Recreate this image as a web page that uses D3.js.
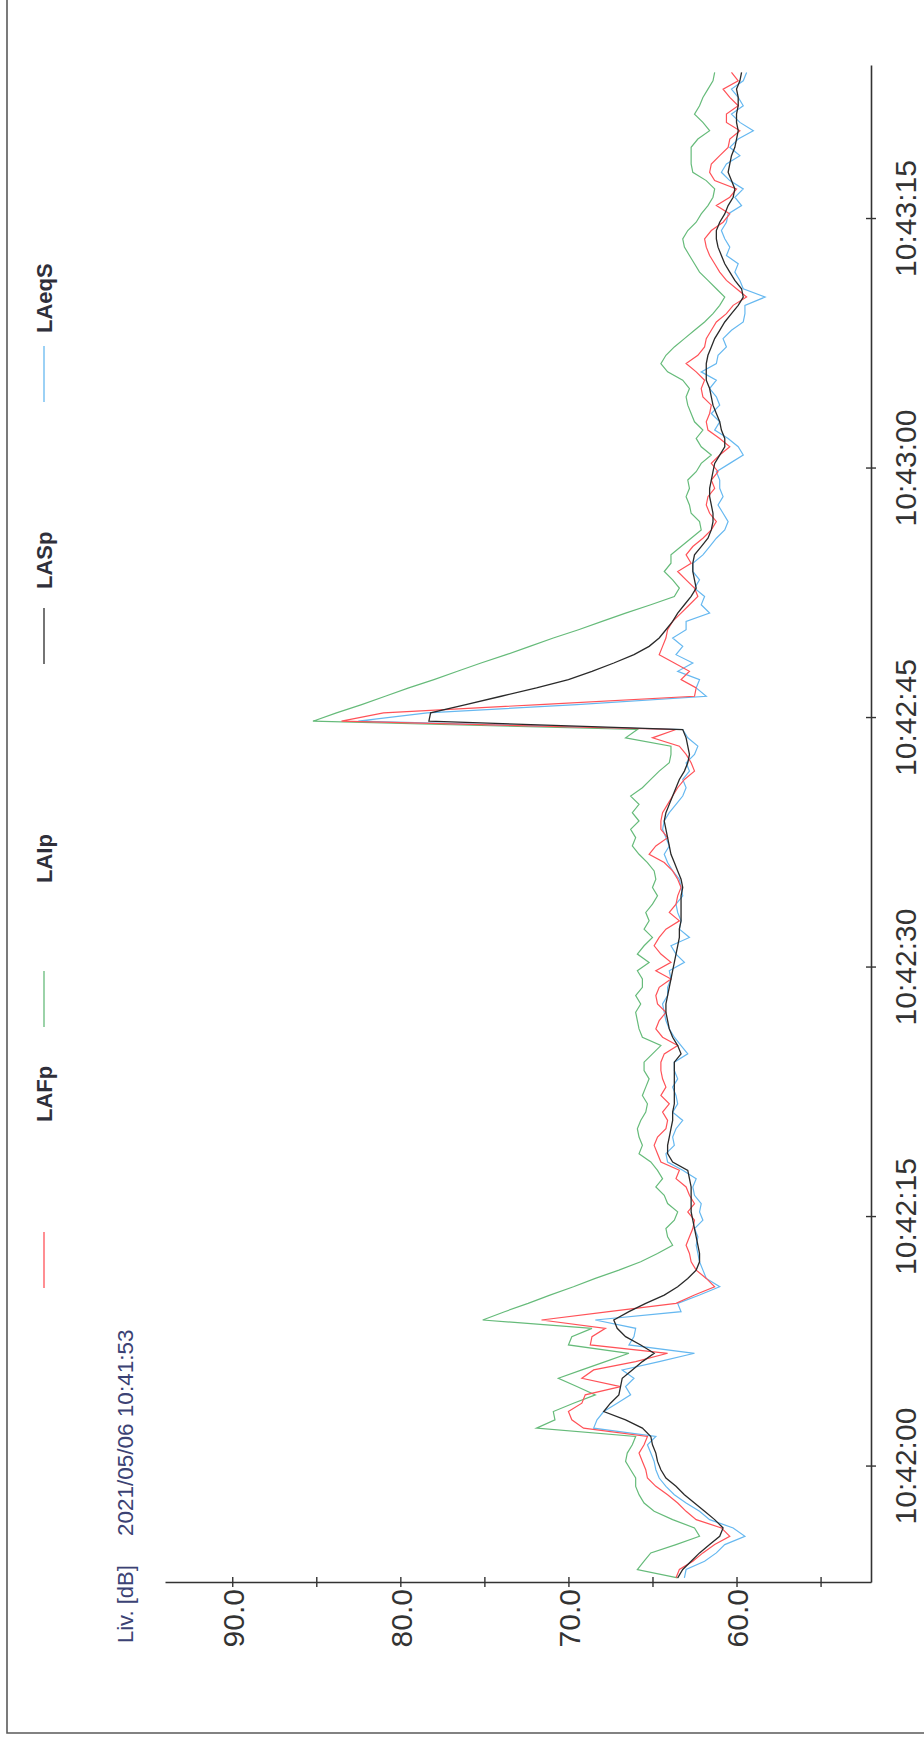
<!DOCTYPE html>
<html>
<head>
<meta charset="utf-8">
<script src="https://cdn.jsdelivr.net/npm/d3@7"></script>
<style>
  html, body { margin: 0; padding: 0; background: #fff; }
  svg { display: block; }
</style>
</head>
<body>
<svg id="chart" width="924" height="1742"></svg>
<script>
// ---- Data: sound level log, 0.5 s samples starting 2021/05/06 10:41:53.25 ----
const recordDate = "2021-05-06";
const firstSample = "10:41:53.250";
const sampleStepMs = 500;
const axisStart = "10:41:53.000";
const axisEnd = "10:43:24.200";

const seriesNames = ["LAFp", "LAIp", "LASp", "LAeqS"];

const LAFp = [
  63.6, 63.4, 62.6, 62.0, 61.3, 60.4, 60.9, 62.4, 63.0, 63.5,
  64.1, 64.8, 65.3, 65.4, 65.6, 65.8, 65.5, 65.3, 69.1, 69.8,
  70.0, 69.2, 69.0, 66.9, 69.2, 68.5, 66.0, 64.1, 68.7, 68.6,
  67.8, 71.6, 67.6, 63.6, 62.5, 61.3, 61.8, 62.4, 62.7, 62.8,
  63.0, 62.8, 62.6, 62.5, 62.9, 62.5, 62.8, 63.0, 63.6, 63.4,
  64.5, 64.7, 64.9, 64.7, 64.2, 64.1, 64.4, 64.0, 64.5, 64.2,
  64.4, 64.5,
  64.5, 64.3, 63.5, 64.4, 64.8, 64.6, 64.2, 64.7, 64.8, 64.6,
  63.9, 64.8, 63.9, 64.5, 64.9, 64.6, 64.2, 63.4, 64.0, 63.6,
  63.5, 63.3, 63.5, 63.8, 64.3, 65.2, 64.8, 64.1, 64.5, 64.5,
  64.4, 64.1, 63.8, 63.5, 63.1, 62.5, 62.7, 63.0, 63.4, 65.0,
  63.6,
  83.5, 81.0, 71.7, 62.5, 62.4, 63.3, 62.8, 63.7, 64.6, 64.4,
  64.2, 64.1, 63.8, 63.3, 62.8, 62.3, 62.5, 63.0, 63.5, 62.7,
  63.0, 62.6, 62.0, 61.5, 61.2, 61.6, 61.8, 61.7, 61.3, 61.5,
  61.1, 61.5, 61.0, 60.4, 61.0, 61.7, 61.8, 61.6, 61.5, 62.0,
  62.1, 61.9, 62.4, 63.0, 62.3, 61.9, 61.8, 61.5, 61.2, 60.6,
  60.2, 59.4, 60.0, 60.6, 61.0, 61.3, 61.6, 61.8, 61.9, 61.5,
  60.8, 60.4, 61.2, 60.4, 60.0, 61.3, 61.6, 61.5, 61.0, 60.5,
  60.4, 59.8, 60.6, 60.6, 59.9, 60.4, 60.8, 59.9, 60.3
];

const LAIp = [
  63.5, 65.9, 65.5, 65.1, 63.6, 62.2, 62.5, 63.8, 64.9, 65.5,
  65.8, 66.0, 66.0, 66.3, 66.6, 66.5, 66.2, 66.0, 71.9, 70.8,
  70.9, 69.7, 68.4, 69.5, 70.6, 69.2, 67.8, 66.4, 70.0, 69.8,
  68.6, 75.1, 73.8, 72.4, 71.1, 69.7, 68.4, 67.0, 65.7, 64.7,
  63.8, 64.1, 64.2, 63.7, 63.5, 64.1, 64.3, 64.8, 64.4, 64.7,
  65.1, 65.8, 65.6, 65.8, 65.9, 65.7, 65.4, 65.3, 65.6, 65.4,
  65.2, 65.5,
  65.5, 65.0, 64.5, 65.6, 65.8, 65.9, 66.0, 65.7, 66.0, 65.6,
  65.6, 65.9, 65.2, 65.9, 65.5, 65.0, 65.5, 65.2, 65.4, 65.0,
  64.7, 65.0, 64.8, 64.9, 65.3, 65.8, 66.2, 66.0, 66.3, 65.8,
  66.2, 65.8, 66.3, 65.6, 65.1, 64.6, 64.0, 63.9, 63.9, 66.6,
  65.9,
  85.2, 83.8, 82.3, 80.9, 79.5, 78.0, 76.6, 75.2, 73.7, 72.3,
  70.9, 69.4, 68.0, 66.6, 65.1, 63.7, 63.4, 63.8, 64.3, 63.9,
  63.9, 63.3, 62.7, 62.1, 62.2, 62.7, 62.8, 63.0, 62.8, 62.9,
  62.4, 62.1, 61.5, 62.1, 62.4, 62.0, 62.5, 62.7, 62.9, 63.0,
  62.8, 63.2, 64.1, 64.5, 64.2, 63.7, 63.1, 62.5, 61.9, 61.4,
  61.0, 60.7, 61.2, 61.7, 62.2, 62.5, 62.8, 63.1, 63.2, 62.9,
  62.4, 62.1, 61.7, 61.4, 61.3, 61.8, 62.6, 62.7, 62.7, 62.7,
  62.3, 61.6, 62.0, 62.5, 62.2, 62.0, 61.7, 61.4, 61.3
];

const LASp = [
  63.5, 63.2, 62.7, 62.2, 61.6, 61.0, 60.8, 61.3, 61.9, 62.5,
  63.1, 63.6, 64.2, 64.5, 64.7, 64.8, 65.0, 65.1, 65.6, 66.6,
  67.9, 67.5, 67.0, 66.9, 66.8, 66.2, 65.6, 64.9, 65.7, 66.6,
  67.1, 67.3, 66.4, 65.4, 64.3, 63.5, 62.9, 62.4, 62.2, 62.2,
  62.3, 62.4, 62.5, 62.6, 62.7, 62.7, 62.7, 62.7, 62.8, 62.9,
  63.8, 64.1, 64.1, 64.0, 63.9, 63.8, 63.8, 63.7, 63.7, 63.7,
  63.7, 63.7,
  63.7, 63.3, 63.5, 63.8, 64.0, 64.1, 64.2, 64.2, 64.1, 64.0,
  63.9, 63.8, 63.7, 63.6, 63.5, 63.4, 63.4, 63.3, 63.3, 63.3,
  63.3, 63.2, 63.3, 63.5, 63.7, 63.9, 64.0, 64.1, 64.2, 64.3,
  64.2, 64.0, 63.8, 63.6, 63.4, 63.1, 62.9, 62.8, 62.9, 63.0,
  63.2,
  78.3, 78.2, 76.1, 74.0, 71.9, 70.0, 68.6, 67.3, 66.1, 65.2,
  64.6, 64.2, 63.8, 63.5, 63.1, 62.7, 62.4, 62.5, 62.6, 62.6,
  62.5, 62.1, 61.7, 61.5, 61.4, 61.4, 61.5, 61.6, 61.6, 61.5,
  61.4, 61.3, 61.0, 60.7, 60.7, 60.9, 61.0, 61.2, 61.4, 61.5,
  61.6, 61.8, 61.8, 61.8, 61.7, 61.5, 61.3, 61.0, 60.7, 60.3,
  59.9, 59.6, 59.7, 60.1, 60.4, 60.7, 60.9, 61.1, 61.2, 61.2,
  61.0, 60.7, 60.5, 60.2, 60.1, 60.3, 60.5, 60.4, 60.3, 60.1,
  60.0, 59.9, 60.0, 60.0, 59.9, 59.9, 60.0, 59.8, 59.7
];

const LAeqS = [
  63.1, 63.0, 61.9, 61.2, 60.7, 59.5, 60.2, 61.6, 62.2, 63.0,
  63.7, 64.2, 64.6, 64.8, 64.9, 65.1, 65.3, 64.8, 68.5, 68.3,
  67.9, 67.1, 66.3, 66.6, 66.1, 66.8, 64.6, 62.5, 66.4, 66.1,
  66.0, 68.4, 63.3, 63.5, 62.2, 61.0, 61.8, 62.0, 62.2, 62.3,
  62.4, 62.3, 62.5, 62.0, 62.2, 62.1, 62.5, 62.6, 62.4, 63.2,
  64.1, 64.2, 63.7, 63.8, 63.6, 63.2, 63.8, 63.5, 63.6, 63.8,
  63.5, 63.7,
  63.7, 62.9, 63.3, 63.7, 64.0, 64.2, 64.3, 64.4, 64.1, 64.1,
  63.9, 64.0, 63.1, 63.6, 63.9, 62.8, 63.4, 63.3, 63.5, 63.6,
  63.2, 63.3, 63.4, 63.8, 64.1, 64.3, 64.0, 64.2, 64.4, 64.3,
  64.0, 63.6, 63.2, 63.0, 63.2, 62.8, 63.0, 62.5, 62.3, 62.9,
  63.2,
  82.5, 78.4, 69.5, 61.8, 62.4, 62.2, 63.5, 62.6, 63.6, 63.2,
  63.8, 63.0, 63.0, 61.6, 62.1, 61.9, 62.5, 62.2, 62.6, 62.6,
  62.0, 61.6, 61.2, 60.7, 60.5, 60.8, 61.1, 60.8, 61.0, 61.0,
  61.2, 60.4, 59.6, 59.9, 60.5, 61.3, 61.0, 61.5, 61.0, 61.2,
  61.6, 61.2, 62.1, 61.2, 61.1, 60.6, 60.8, 60.3, 59.6, 59.5,
  59.5, 58.3, 59.6, 59.8, 60.1, 59.9, 60.6, 60.4, 60.7, 60.9,
  60.6, 60.5, 59.7, 60.1, 59.6, 60.4, 60.9, 60.6, 59.8, 60.4,
  59.9, 59.0, 59.8, 60.3, 59.6, 59.9, 60.3, 59.6, 59.4
];

const valueTicks = [55, 60, 65, 70, 75, 80, 85, 90];
const valueDomain = [52, 94];
const timeTickLabels = ["10:42:00", "10:42:15", "10:42:30", "10:42:45", "10:43:00", "10:43:15"];
const yAxisTitle = "Liv. [dB]";
const startStamp = "2021/05/06 10:41:53";

// ---- Styling ----
const colors = { LAFp: "#ff5258", LAIp: "#66bb7a", LASp: "#2a2a2a", LAeqS: "#66b8f0" };
const fontFamily = "'Liberation Sans', Arial, Helvetica, sans-serif";

const svg = d3.select("#chart");

// The plot is printed sideways: time runs bottom-to-top, level runs right-to-left.
const parseTime = d3.timeParse("%Y-%m-%d %H:%M:%S.%L");
const parseClock = s => d3.timeParse("%Y-%m-%d %H:%M:%S")(recordDate + " " + s);
const t0 = parseTime(recordDate + " " + firstSample);

const plot = { left: 165, right: 871, top: 65, bottom: 1582 };

const tScale = d3.scaleTime()
  .domain([parseTime(recordDate + " " + axisStart), parseTime(recordDate + " " + axisEnd)])
  .range([plot.bottom, plot.top]);

const vScale = d3.scaleLinear()
  .domain(valueDomain)
  .range([plot.right, plot.left]);

const seriesData = { LAFp, LAIp, LASp, LAeqS };
const series = seriesNames.map(name => ({
  name,
  points: seriesData[name].map((v, i) => ({ t: new Date(t0.getTime() + i * sampleStepMs), v }))
}));

// Page frame (scanned sheet edge)
svg.append("path")
  .attr("d", "M7,0 L7,1733 L924,1733")
  .attr("fill", "none")
  .attr("stroke", "#5a5a5a")
  .attr("stroke-width", 1.6);

// Level axis (horizontal, at the bottom of the plot)
const vAxis = d3.axisBottom(vScale)
  .tickValues(valueTicks)
  .tickSize(0)
  .tickSizeOuter(0)
  .tickFormat(d => d % 10 === 0 ? d3.format(".1f")(d) : "");

const vAxisG = svg.append("g")
  .attr("transform", `translate(0,${plot.bottom})`)
  .call(vAxis);
vAxisG.select(".domain").attr("stroke", "#333").attr("stroke-width", 1.6);
vAxisG.selectAll(".tick").append("line")
  .attr("y1", -5).attr("y2", 5)
  .attr("stroke", "#333").attr("stroke-width", 1.4);
vAxisG.selectAll(".tick text")
  .attr("x", null).attr("y", null).attr("dy", null)
  .attr("transform", "translate(11,7) rotate(-90)")
  .attr("text-anchor", "end")
  .attr("font-family", fontFamily)
  .attr("font-size", 30)
  .attr("fill", "#333");

// Time axis (vertical, at the right of the plot)
const tAxis = d3.axisRight(tScale)
  .tickValues(timeTickLabels.map(parseClock))
  .tickSize(0)
  .tickSizeOuter(0)
  .tickFormat(d3.timeFormat("%H:%M:%S"));

const tAxisG = svg.append("g")
  .attr("transform", `translate(${plot.right},0)`)
  .call(tAxis);
tAxisG.select(".domain").attr("stroke", "#333").attr("stroke-width", 1.6);
tAxisG.selectAll(".tick").append("line")
  .attr("x1", -5).attr("x2", 5)
  .attr("stroke", "#333").attr("stroke-width", 1.4);
tAxisG.selectAll(".tick text")
  .attr("x", null).attr("y", null).attr("dy", null)
  .attr("transform", "translate(45,0) rotate(-90)")
  .attr("text-anchor", "middle")
  .attr("font-family", fontFamily)
  .attr("font-size", 30)
  .attr("fill", "#333");

// Axis title and recording start stamp
svg.append("text")
  .attr("transform", "translate(133,1643) rotate(-90)")
  .attr("font-family", fontFamily)
  .attr("font-size", 22)
  .attr("fill", "#3b4274")
  .text(yAxisTitle);

svg.append("text")
  .attr("transform", "translate(133,1536) rotate(-90)")
  .attr("font-family", fontFamily)
  .attr("font-size", 22.5)
  .attr("fill", "#3b4274")
  .text(startStamp);

// Series lines
const line = d3.line()
  .x(d => vScale(d.v))
  .y(d => tScale(d.t));

const drawOrder = ["LAIp", "LAeqS", "LAFp", "LASp"];
svg.append("g")
  .selectAll("path")
  .data(drawOrder.map(n => series.find(s => s.name === n)))
  .join("path")
  .attr("d", d => line(d.points))
  .attr("fill", "none")
  .attr("stroke", d => colors[d.name])
  .attr("stroke-width", d => d.name === "LASp" ? 1.3 : 1.2)
  .attr("stroke-linejoin", "miter");

// Legend (sideways, reading bottom-to-top)
const legendLayout = [
  { name: "LAFp", lineY: 1288, textY: 1122 },
  { name: "LAIp", lineY: 1027, textY: 883 },
  { name: "LASp", lineY: 664, textY: 589 },
  { name: "LAeqS", lineY: 402, textY: 333 }
];
const legend = svg.append("g");
legendLayout.forEach(item => {
  legend.append("line")
    .attr("x1", 44).attr("x2", 44)
    .attr("y1", item.lineY).attr("y2", item.lineY - 56)
    .attr("stroke", colors[item.name])
    .attr("stroke-width", 1.3);
  legend.append("text")
    .attr("transform", `translate(52,${item.textY}) rotate(-90)`)
    .attr("font-family", fontFamily)
    .attr("font-size", 22)
    .attr("font-weight", "bold")
    .attr("fill", "#2f2f3a")
    .text(item.name);
});
</script>
</body>
</html>
